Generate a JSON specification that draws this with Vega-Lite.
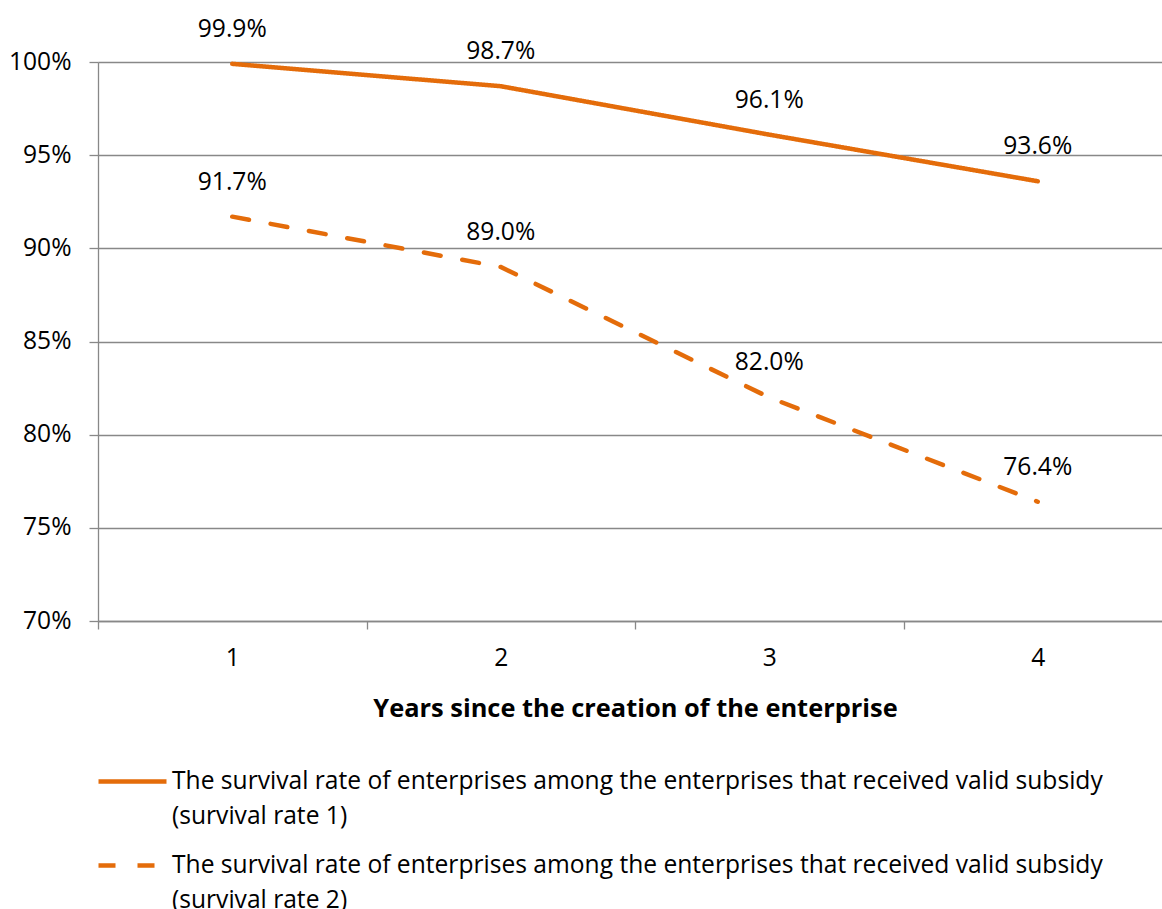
{
  "$schema": "https://vega.github.io/schema/vega-lite/v6.json",
  "width": 1074,
  "height": 559,
  "padding": {"left": 8, "top": 16, "right": 0, "bottom": 10},
  "autosize": {"type": "pad"},
  "config": {
    "font": "Open Sans",
    "view": {"stroke": null},
    "style": {"guide-label": {"lineHeight": 35}},
    "axis": {
      "domainColor": "#888888",
      "domainWidth": 1.3,
      "tickColor": "#888888",
      "tickWidth": 1.3,
      "gridColor": "#888888",
      "gridWidth": 1.3,
      "labelFont": "Open Sans",
      "labelFontSize": 24.6,
      "labelColor": "#000000",
      "titleFont": "Open Sans",
      "titleColor": "#000000"
    }
  },
  "data": {
    "values": [
      {"year": "1", "series": "survival rate 1", "rate": 0.999},
      {"year": "2", "series": "survival rate 1", "rate": 0.987},
      {"year": "3", "series": "survival rate 1", "rate": 0.961},
      {"year": "4", "series": "survival rate 1", "rate": 0.936},
      {"year": "1", "series": "survival rate 2", "rate": 0.917},
      {"year": "2", "series": "survival rate 2", "rate": 0.890},
      {"year": "3", "series": "survival rate 2", "rate": 0.820},
      {"year": "4", "series": "survival rate 2", "rate": 0.764}
    ]
  },
  "encoding": {
    "x": {
      "field": "year",
      "type": "ordinal",
      "bandPosition": 0.5,
      "scale": {"type": "band", "paddingInner": 0, "paddingOuter": 0},
      "axis": {
        "title": "Years since the creation of the enterprise",
        "titleFontSize": 25.4,
        "titleFontWeight": "bold",
        "titlePadding": 27,
        "labelAngle": 0,
        "tickBand": "extent",
        "tickSize": 8,
        "labelPadding": 17,
        "grid": false
      }
    },
    "y": {
      "field": "rate",
      "type": "quantitative",
      "scale": {"domain": [0.7, 1], "nice": false, "zero": false},
      "axis": {
        "title": null,
        "values": [0.7, 0.75, 0.8, 0.85, 0.9, 0.95, 1],
        "format": ".0%",
        "tickSize": 9,
        "labelPadding": 18,
        "grid": true
      }
    }
  },
  "layer": [
    {
      "mark": {"type": "line", "color": "#E46C0A", "strokeWidth": 4.5, "strokeCap": "round"},
      "encoding": {
        "strokeDash": {
          "field": "series",
          "type": "nominal",
          "scale": {"domain": ["survival rate 1", "survival rate 2"], "range": [[1, 0], [17, 22]]},
          "legend": {
            "title": null,
            "orient": "none",
            "legendX": -2,
            "legendY": 683,
            "direction": "vertical",
            "padding": 0,
            "symbolType": "stroke",
            "symbolSize": 4624,
            "symbolStrokeWidth": 4.5,
            "symbolStrokeColor": "#E46C0A",
            "labelFont": "Open Sans",
            "labelFontSize": 24.6,
            "labelColor": "#000000",
            "labelLimit": 1100,
            "labelOffset": 3,
            "rowPadding": -15,
            "labelExpr": "['The survival rate of enterprises among the enterprises that received valid subsidy', '(' + datum.label + ')']"
          }
        }
      }
    },
    {
      "mark": {"type": "text", "dy": -34, "fontSize": 24.6, "baseline": "middle", "align": "center", "color": "#000000", "font": "Open Sans"},
      "encoding": {
        "text": {"field": "rate", "type": "quantitative", "format": ".1%"}
      }
    }
  ]
}
